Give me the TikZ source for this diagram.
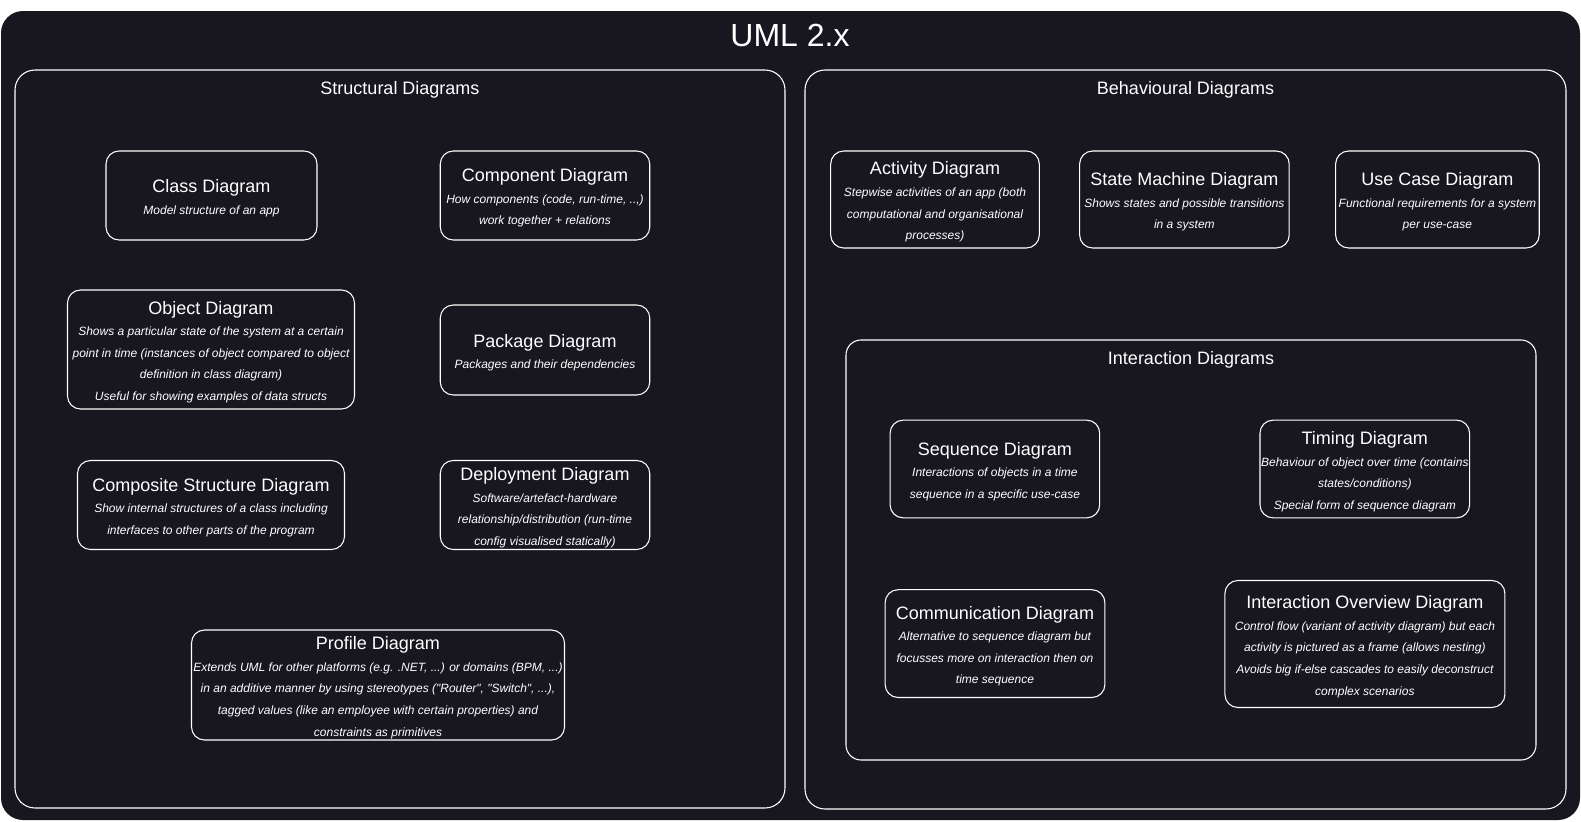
\documentclass[tikz,border=0pt]{standalone}
\usepackage{fontspec}
\setmainfont{Liberation Sans}[Ligatures=TeXOff]
\definecolor{umlbg}{RGB}{24,22,31}
\newcommand\ttl[1]{{\fontsize{13.5}{16.2}\selectfont\upshape\rule{0pt}{13.7pt}#1}}
\begin{document}
\begin{tikzpicture}[x=0.75pt,y=-0.75pt,
    diag/.style={draw=white,line width=0.8pt,rounded corners=9.75pt,text=white,align=center,inner sep=0pt,
      font=\fontsize{9}{16.2}\selectfont\itshape},
    sz/.style 2 args={minimum width=#1*0.75pt,minimum height=#2*0.75pt},
    frame/.style={draw=white,line width=0.8pt,rounded corners=15pt},
    head/.style={text=white,anchor=base,font=\fontsize{13.5}{16}\selectfont}]

  \fill[white] (0,0) rectangle (1581,821);
  \useasboundingbox (0,0) rectangle (1581,821);
  \fill[umlbg,rounded corners=16.5pt] (1,11) rectangle (1580,820);
  \path (790,46.7) node[head,font=\fontsize{24}{28}\selectfont] (uml) {UML 2.x};

  % structural diagrams
  \draw[frame] (15,70) rectangle (785,808);
  \path (400,94) node[head] (str) {Structural Diagrams};

  \path (211.5,195.5) node[diag,sz={211}{89}] (cls) {\ttl{Class Diagram}\\Model structure of an app};
  \path (545,195.5) node[diag,sz={209.5}{89}] (cmp) {\ttl{Component Diagram}\\How components (code, run-time, ..,)\\work together + relations};
  \path (211,349.5) node[diag,sz={287}{119}] (obj) {\ttl{Object Diagram}\\Shows a particular state of the system at a certain\\point in time (instances of object compared to object\\definition in class diagram)\\Useful for showing examples of data structs};
  \path (545,350) node[diag,sz={209.5}{90}] (pkg) {\ttl{Package Diagram}\\Packages and their dependencies};
  \path (211,505) node[diag,sz={267}{89}] (cps) {\ttl{Composite Structure Diagram}\\Show internal structures of a class including\\interfaces to other parts of the program};
  \path (545,505) node[diag,sz={209.5}{89}] (dpl) {\ttl{Deployment Diagram}\\Software/artefact-hardware\\relationship/distribution (run-time\\config visualised statically)};
  \path (378,685) node[diag,sz={373}{110}] (prf) {\ttl{Profile Diagram}\\Extends UML for other platforms (e.g. .NET, ...) or domains (BPM, ...)\\in an additive manner by using stereotypes ("Router", "Switch", ...),\\tagged values (like an employee with certain properties) and\\constraints as primitives};

  % behavioural diagrams
  \draw[frame] (805,70) rectangle (1566,809);
  \path (1185.5,94) node[head] (beh) {Behavioural Diagrams};

  \path (935,199.5) node[diag,sz={208.6}{97}] (act) {\ttl{Activity Diagram}\\Stepwise activities of an app (both\\computational and organisational\\processes)};
  \path (1184.4,199.5) node[diag,sz={209.6}{97}] (stm) {\ttl{State Machine Diagram}\\Shows states and possible transitions\\in a system};
  \path (1437.4,199.5) node[diag,sz={203.6}{97}] (usc) {\ttl{Use Case Diagram}\\Functional requirements for a system\\per use-case};

  % interaction diagrams
  \draw[frame,rounded corners=11.25pt] (846,340) rectangle (1536,760);
  \path (1191,364) node[head] (itr) {Interaction Diagrams};

  \path (994.9,469) node[diag,sz={209.6}{97.7}] (seq) {\ttl{Sequence Diagram}\\Interactions of objects in a time\\sequence in a specific use-case};
  \path (1364.8,469) node[diag,sz={209.6}{97.7}] (tmg) {\ttl{Timing Diagram}\\Behaviour of object over time (contains\\states/conditions)\\Special form of sequence diagram};
  \path (995,643.6) node[diag,sz={219.8}{107.8}] (com) {\ttl{Communication Diagram}\\Alternative to sequence diagram but\\focusses more on interaction then on\\time sequence};
  \path (1364.9,644) node[diag,sz={280}{127}] (ovw) {\ttl{Interaction Overview Diagram}\\Control flow (variant of activity diagram) but each\\activity is pictured as a frame (allows nesting)\\Avoids big if-else cascades to easily deconstruct\\complex scenarios};
\end{tikzpicture}
\end{document}
